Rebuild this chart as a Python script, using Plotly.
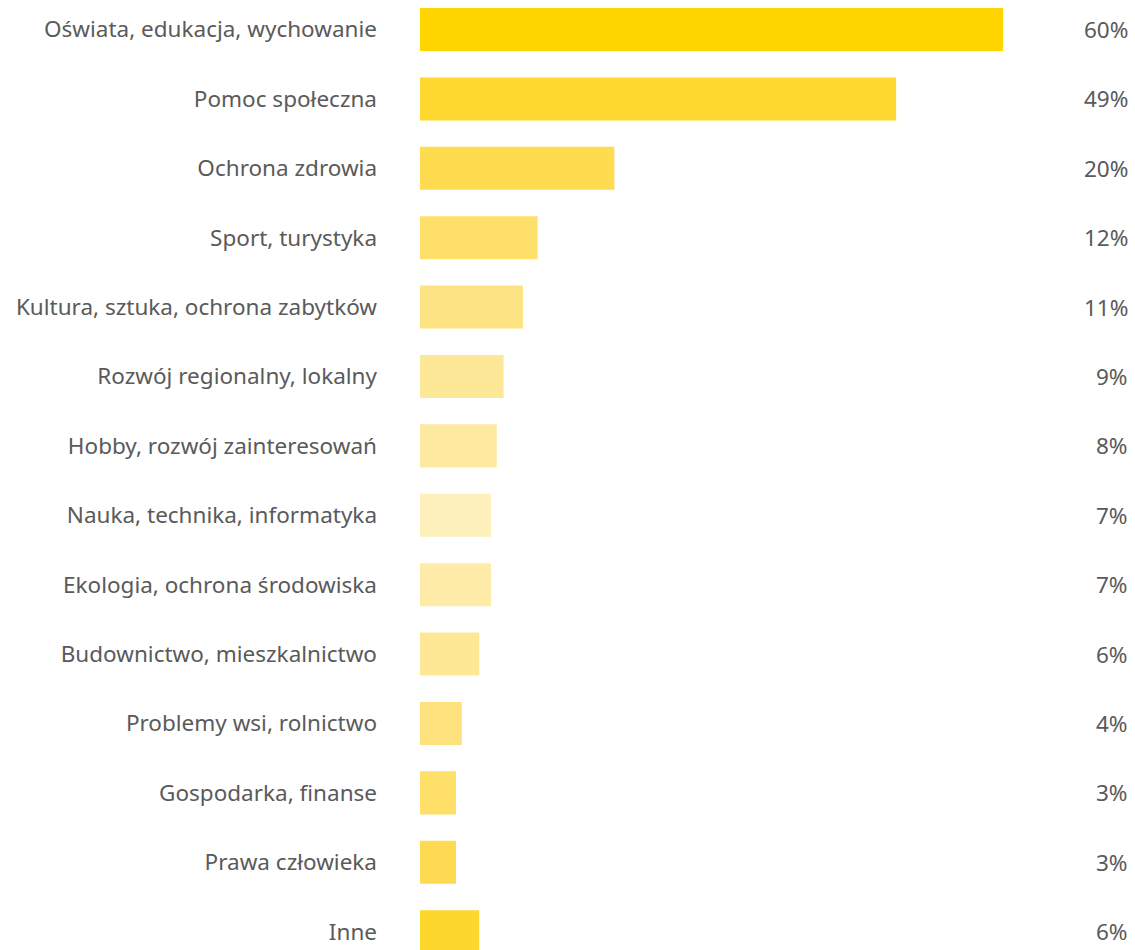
import plotly.graph_objects as go

categories = [
    "Oświata, edukacja, wychowanie",
    "Pomoc społeczna",
    "Ochrona zdrowia",
    "Sport, turystyka",
    "Kultura, sztuka, ochrona zabytków",
    "Rozwój regionalny, lokalny",
    "Hobby, rozwój zainteresowań",
    "Nauka, technika, informatyka",
    "Ekologia, ochrona środowiska",
    "Budownictwo, mieszkalnictwo",
    "Problemy wsi, rolnictwo",
    "Gospodarka, finanse",
    "Prawa człowieka",
    "Inne",
]
values = [60, 49, 20, 12.1, 10.6, 8.6, 7.9, 7.3, 7.3, 6.1, 4.3, 3.7, 3.7, 6.1]
value_labels = ["60%", "49%", "20%", "12%", "11%", "9%", "8%", "7%", "7%", "6%", "4%", "3%", "3%", "6%"]
colors = [
    "#FFD500", "#FED82F", "#FEDB4F", "#FEDF6A", "#FEE383", "#FDE898", "#FDE99F",
    "#FEF0BB", "#FEEBA8", "#FEE896", "#FEE27D", "#FEDF68", "#FEDA52", "#FED72C",
]

TEXT = "#5a5a5a"
FONT = "Noto Sans"
FSIZE = 22.5

fig = go.Figure(go.Bar(
    y=categories,
    x=values,
    orientation="h",
    marker=dict(color=colors, line=dict(width=0)),
    width=0.62,
    hoverinfo="skip",
))

for cat, lab in zip(categories, value_labels):
    fig.add_annotation(
        x=1.2178, xref="paper", y=cat, yref="y",
        text=lab, showarrow=False, xanchor="right", yanchor="middle",
        font=dict(family=FONT, size=FSIZE, color=TEXT),
    )

fig.update_layout(
    width=1135, height=950,
    margin=dict(l=420, r=132, t=0, b=0),
    plot_bgcolor="white", paper_bgcolor="white",
    showlegend=False,
    xaxis=dict(range=[0, 60], visible=False, fixedrange=True),
    yaxis=dict(
        type="category",
        range=[13.264, -0.425],
        showgrid=False, zeroline=False, showline=False, ticks="",
        ticklabelstandoff=42,
        tickfont=dict(family=FONT, size=FSIZE, color=TEXT),
        fixedrange=True,
    ),
)

fig.write_html(
    "out.html",
    config={"displayModeBar": False},
    post_script="document.body.style.margin='0';document.body.style.overflow='hidden';",
)
